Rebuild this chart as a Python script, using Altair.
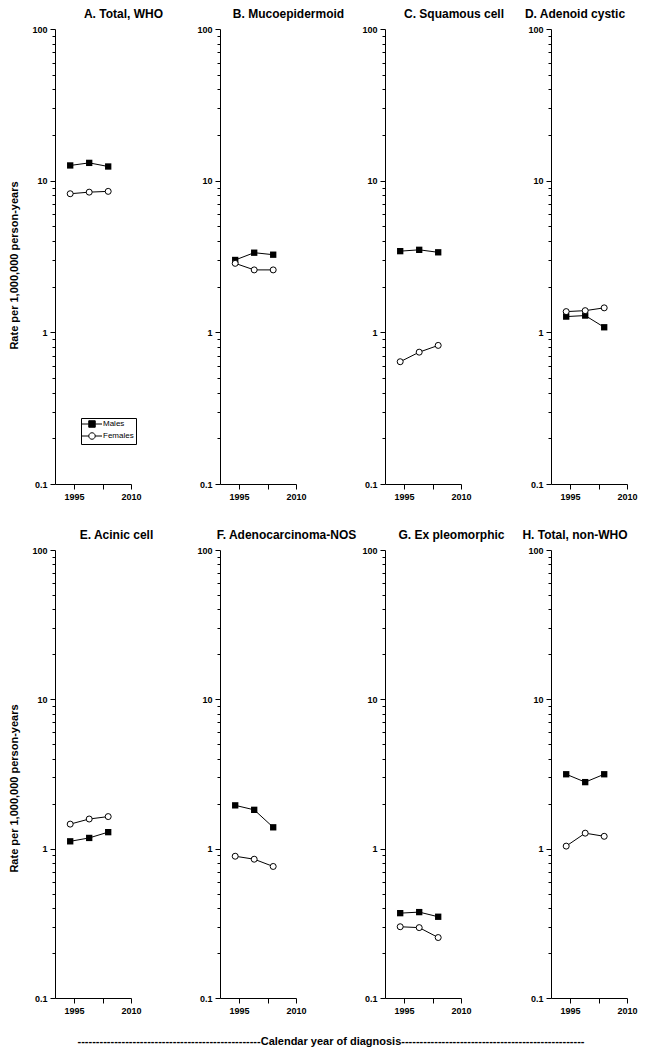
import altair as alt
import pandas as pd

# ---- data ----
years = [1994, 1999, 2004]
titles = ["A. Total, WHO", "B. Mucoepidermoid", "C. Squamous cell", "D. Adenoid cystic",
          "E. Acinic cell", "F. Adenocarcinoma-NOS", "G. Ex pleomorphic", "H. Total, non-WHO"]
males = [
    [12.6, 13.1, 12.4],
    [3.0, 3.35, 3.25],
    [3.43, 3.5, 3.37],
    [1.27, 1.29, 1.08],
    [1.12, 1.18, 1.29],
    [1.95, 1.82, 1.39],
    [0.37, 0.376, 0.35],
    [3.15, 2.79, 3.15],
]
females = [
    [8.2, 8.4, 8.5],
    [2.85, 2.58, 2.58],
    [0.64, 0.74, 0.82],
    [1.37, 1.39, 1.45],
    [1.46, 1.58, 1.64],
    [0.89, 0.85, 0.76],
    [0.30, 0.296, 0.254],
    [1.04, 1.27, 1.21],
]
sexes = ["Males", "Females"]
y_ticks = [0.1, 0.2, 0.3, 0.4, 0.5, 0.6, 0.7, 0.8, 0.9,
           1, 2, 3, 4, 5, 6, 7, 8, 9,
           10, 20, 30, 40, 50, 60, 70, 80, 90, 100]
x_ticks = [1995, 2002.5, 2010]
y_title = "Rate per 1,000,000 person-years"
x_caption = "-" * 50 + "Calendar year of diagnosis" + "-" * 50

FONT = "Liberation Sans"
PLOT_W = 76
cell_w = [165, 165, 166, 76, 151, 161, 161, 76]
cell_h = [455, 455, 455, 455, 448, 448, 448, 448]

male_path = "M-3.1,0H-1M1,0H3.1M-1,-1H1V1H-1Z"
female_path = "M-3.1,0H-1M1,0H3.1M-1,0A1,1,0,1,1,1,0A1,1,0,1,1,-1,0Z"

major_test = "indexof([0.1,1,10,100], datum.value) >= 0"


def panel(i):
    rows = []
    for s, vals in zip(sexes, [males[i], females[i]]):
        for yr, v in zip(years, vals):
            rows.append({"year": yr, "rate": v, "sex": s})
    df = pd.DataFrame(rows)
    has_title = i in (0, 4)
    yaxis = alt.Axis(
        values=y_ticks, format="~g", labelExpr=f"{major_test} ? datum.label : ''",
        tickSize={"condition": {"test": major_test, "value": 5}, "value": 3},
        labelOverlap=False, labelFlush=False, grid=False, labelPadding=3,
        title=y_title if has_title else None,
        titleFontSize=11, titleFontWeight="bold", titleFont=FONT, titlePadding=12,
        **({"titleY": 236 if i == 0 else 238} if has_title else {}),
    )
    xaxis = alt.Axis(values=x_ticks, format="d",
                     labelExpr="datum.value == 2002.5 ? '' : datum.label",
                     tickSize=5, grid=False, title=None, labelOverlap=False,
                     labelFlush=False, labelPadding=3)
    x = alt.X("year:Q", scale=alt.Scale(domain=[1990, 2010], range=[0, PLOT_W], nice=False, zero=False),
              axis=xaxis)
    y = alt.Y("rate:Q", scale=alt.Scale(type="log", domain=[0.1, 100], nice=False), axis=yaxis)
    base = alt.Chart(df)
    lines = base.mark_line(color="black", strokeWidth=1).encode(x=x, y=y, detail="sex:N")
    mpts = base.transform_filter(alt.datum.sex == "Males").mark_point(
        shape="square", filled=True, color="black", size=40, opacity=1).encode(x=x, y=y)
    fpts = base.transform_filter(alt.datum.sex == "Females").mark_point(
        shape="circle", filled=True, fill="white", stroke="black", strokeWidth=1,
        size=36, opacity=1).encode(x=x, y=y)
    layers = [lines, mpts, fpts]
    if i == 0:
        leg = alt.Legend(title=None, orient="none", legendX=26, legendY=389,
                         strokeColor="black", fillColor="white", padding=2,
                         labelFontSize=8, labelFont=FONT, labelColor="black",
                         rowPadding=0, symbolOffset=5, labelOffset=7,
                         symbolSize=42, symbolStrokeWidth=1, symbolStrokeColor="black",
                         symbolOpacity=1)
        lg = base.mark_point(size=0, opacity=1, strokeWidth=1, filled=True).encode(
            x=x, y=y,
            shape=alt.Shape("sex:N", scale=alt.Scale(domain=sexes, range=[male_path, female_path]),
                            legend=leg),
            fill=alt.Fill("sex:N", scale=alt.Scale(domain=sexes, range=["black", "white"]),
                          legend=leg),
            stroke=alt.Stroke("sex:N", scale=alt.Scale(domain=sexes, range=["black", "black"]),
                              legend=leg),
        )
        layers.append(lg)
    return alt.layer(*layers).properties(
        width=cell_w[i], height=cell_h[i],
        title=alt.TitleParams(titles[i], fontSize=12, fontWeight="bold", font=FONT,
                              anchor="middle", frame="group", dx=-14,
                              offset=4, color="black"),
    )


panels = [panel(i) for i in range(8)]

chart = alt.concat(*panels, columns=4, spacing={"row": 66, "column": 0},
                   bounds="flush", align="none").properties(
    padding={"left": 0, "top": 0, "right": 0, "bottom": 0},
    title=alt.TitleParams(x_caption, orient="bottom", fontSize=11, fontWeight="bold",
                          font=FONT, anchor="middle", color="black", offset=21, dx=8),
).configure_view(stroke=None).configure_axis(
    domainColor="black", tickColor="black", labelColor="black", labelFont=FONT,
    labelFontWeight="bold", labelFontSize=9, titleColor="black", domainWidth=1, tickWidth=1,
)

chart.save("out.html", embed_options={"renderer": "svg", "actions": False})
